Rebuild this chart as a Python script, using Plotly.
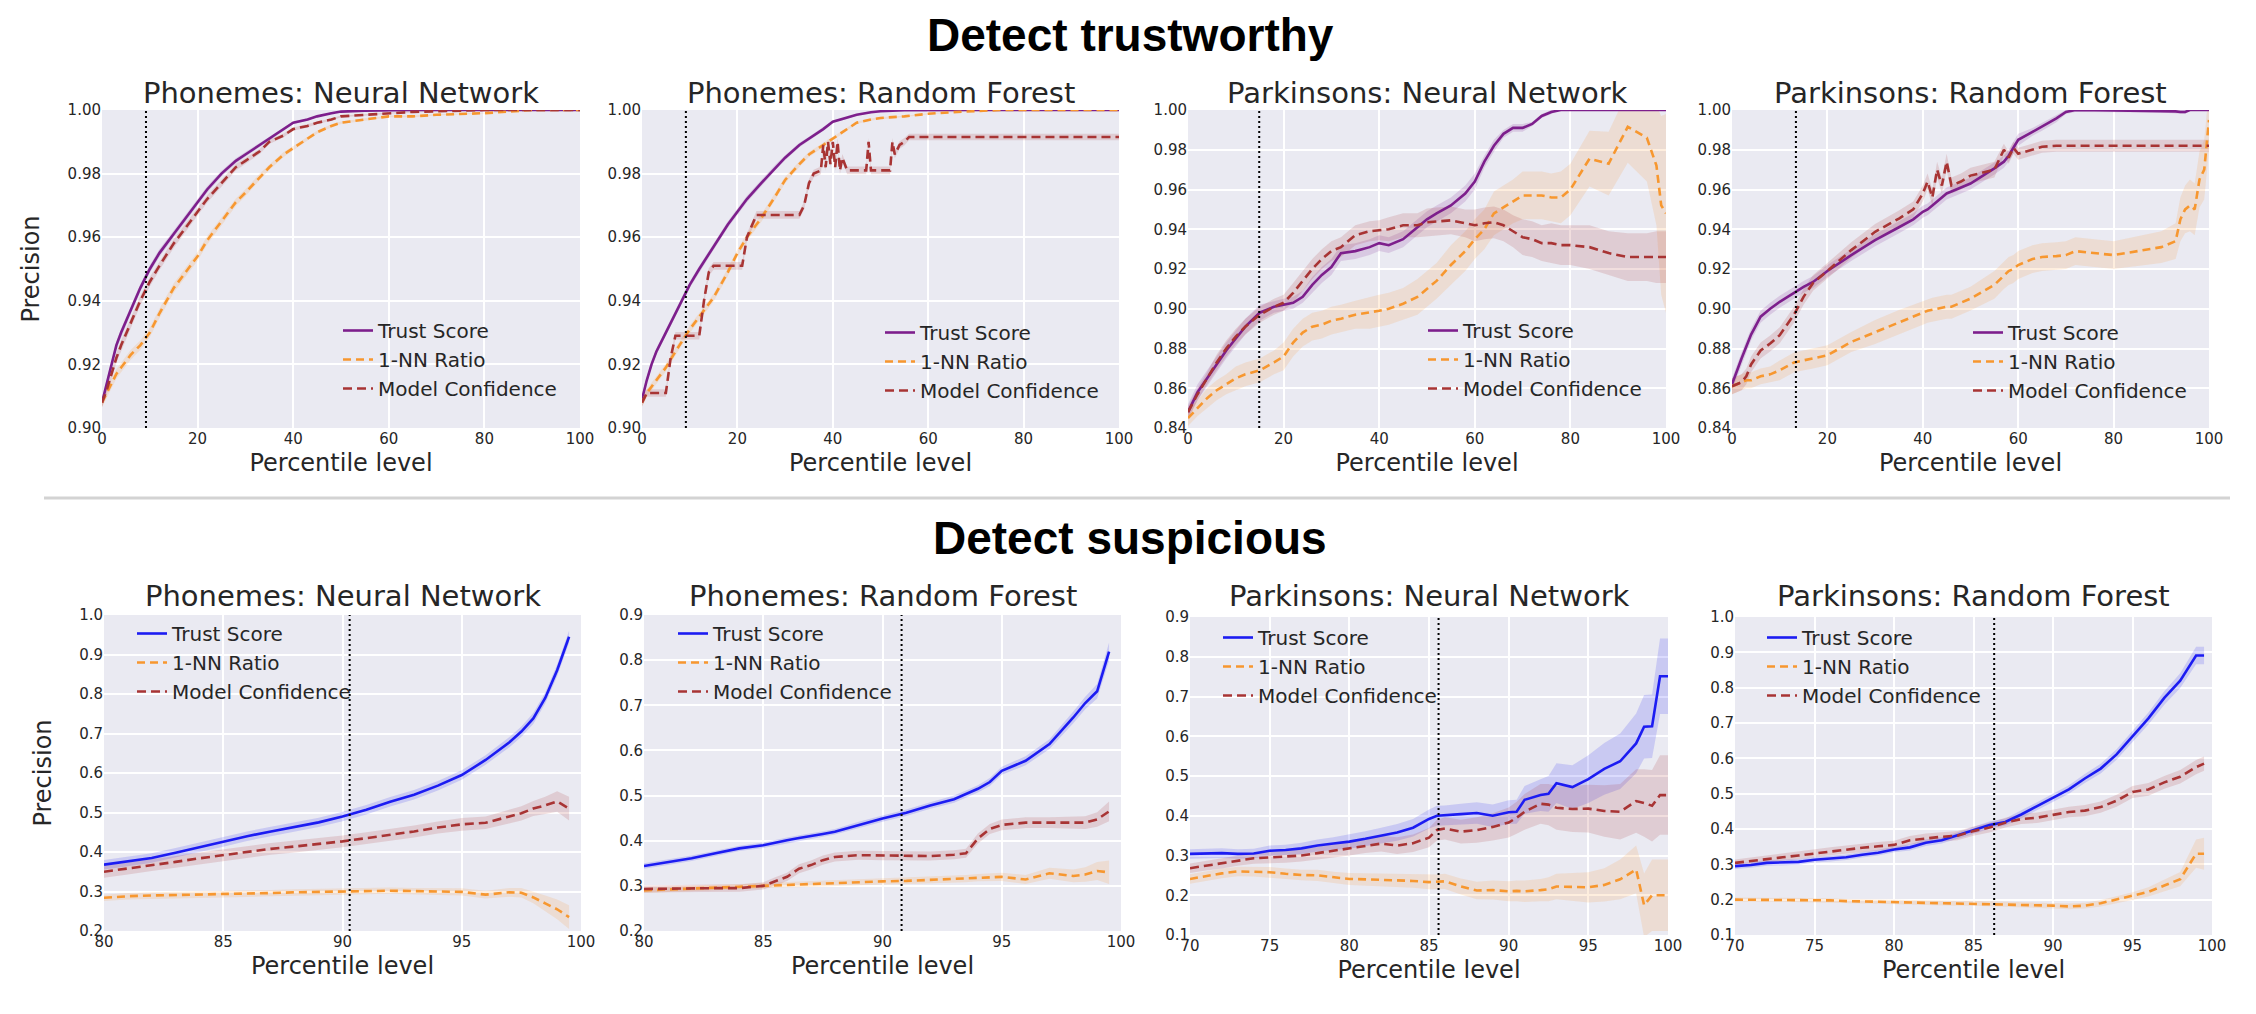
import plotly.graph_objects as go

# ---------------- data ----------------
# top row: "Detect trustworthy", percentile level 0..100
tp1_x = [0, 1, 2, 3, 4, 6, 8, 10, 12, 15,
         18, 20, 22, 25, 28, 30, 33, 35, 38, 40,
         43, 45, 48, 50, 55, 60, 65, 70, 80, 90,
         100]
tp1_trust = [0.908, 0.914, 0.920, 0.926, 0.930, 0.937, 0.944, 0.950, 0.955, 0.961,
             0.967, 0.971, 0.975, 0.980, 0.984, 0.986, 0.989, 0.991, 0.994, 0.996,
             0.997, 0.998, 0.999, 0.9995, 0.9998, 1.0, 1.0, 1.0, 1.0, 1.0,
             1.0]
tp1_conf = [0.908, 0.912, 0.917, 0.922, 0.926, 0.933, 0.940, 0.946, 0.951, 0.958,
            0.964, 0.968, 0.972, 0.977, 0.982, 0.984, 0.987, 0.990, 0.992, 0.994,
            0.995, 0.996, 0.997, 0.998, 0.9985, 0.999, 0.9994, 0.9996, 1.0, 1.0,
            1.0]
tp1_nn = [0.908, 0.911, 0.914, 0.917, 0.919, 0.923, 0.926, 0.930, 0.936, 0.944,
          0.950, 0.954, 0.959, 0.965, 0.971, 0.974, 0.979, 0.982, 0.986, 0.988,
          0.991, 0.993, 0.995, 0.996, 0.997, 0.998, 0.998, 0.9985, 0.999, 1.0,
          1.0]
tp1_trust_sd = [0.0012, 0.0012, 0.0012, 0.0012, 0.0012, 0.0012, 0.0012, 0.0012, 0.0012, 0.0011,
                0.0011, 0.0010, 0.0010, 0.0009, 0.0008, 0.0008, 0.0007, 0.0006, 0.0005, 0.0004,
                0.0004, 0.0003, 0.0002, 0.0002, 0.0001, 0.0, 0.0, 0.0, 0.0, 0.0,
                0.0]
tp1_conf_sd = [0.0015, 0.0015, 0.0015, 0.0015, 0.0015, 0.0015, 0.0015, 0.0015, 0.0014, 0.0014,
               0.0013, 0.0012, 0.0012, 0.0011, 0.0010, 0.0009, 0.0008, 0.0007, 0.0006, 0.0005,
               0.0005, 0.0004, 0.0004, 0.0003, 0.0003, 0.0002, 0.0002, 0.0001, 0.0, 0.0,
               0.0]
tp1_nn_sd = [0.0015, 0.0015, 0.0015, 0.0015, 0.0015, 0.0015, 0.0015, 0.0015, 0.0015, 0.0015,
             0.0014, 0.0014, 0.0013, 0.0013, 0.0012, 0.0011, 0.0010, 0.0009, 0.0008, 0.0007,
             0.0006, 0.0005, 0.0005, 0.0004, 0.0004, 0.0003, 0.0003, 0.0002, 0.0001, 0.0,
             0.0]

tp2_x = [0, 1, 2, 3, 5, 7, 10, 12, 15, 18,
         20, 22, 25, 28, 30, 33, 35, 38, 40, 43,
         45, 48, 50, 55, 60, 65, 70, 75, 80, 90,
         100]
tp2_trust = [0.909, 0.915, 0.920, 0.924, 0.930, 0.936, 0.945, 0.950, 0.957, 0.964,
             0.968, 0.972, 0.977, 0.982, 0.985, 0.989, 0.991, 0.994, 0.9963, 0.9975,
             0.9985, 0.9993, 0.9996, 0.9999, 1.0, 1.0, 1.0, 1.0, 1.0, 1.0,
             1.0]
tp2_nn = [0.908, 0.911, 0.913, 0.915, 0.919, 0.924, 0.931, 0.935, 0.941, 0.949,
          0.955, 0.960, 0.966, 0.973, 0.978, 0.983, 0.986, 0.989, 0.991, 0.994,
          0.996, 0.997, 0.9975, 0.998, 0.9988, 0.9993, 0.9996, 1.0, 1.0, 1.0,
          1.0]
tp2_trust_sd = [0.001, 0.001, 0.001, 0.001, 0.001, 0.001, 0.001, 0.001, 0.001, 0.001,
                0.001, 0.001, 0.001, 0.0009, 0.0008, 0.0007, 0.0006, 0.0005, 0.0004, 0.0003,
                0.0002, 0.0002, 0.0001, 0.0001, 0.0, 0.0, 0.0, 0.0, 0.0, 0.0,
                0.0]
tp2_nn_sd = [0.0012, 0.0012, 0.0012, 0.0012, 0.0012, 0.0012, 0.0012, 0.0012, 0.0012, 0.0012,
             0.0012, 0.0012, 0.0012, 0.0011, 0.0010, 0.0009, 0.0008, 0.0007, 0.0006, 0.0005,
             0.0004, 0.0003, 0.0003, 0.0002, 0.0002, 0.0001, 0.0001, 0.0, 0.0, 0.0,
             0.0]
tp2_conf_x = [0, 1, 5, 6, 7, 12, 13, 14, 15, 21,
              22, 24, 33, 34, 35, 36, 37.5, 38, 38.5, 39,
              39.5, 40, 40.5, 41, 41.5, 42, 43, 47, 47.5, 48,
              52, 52.5, 53, 54, 55, 56, 100]
tp2_conf = [0.908, 0.911, 0.911, 0.922, 0.929, 0.929, 0.940, 0.949, 0.951, 0.951,
            0.960, 0.967, 0.967, 0.970, 0.977, 0.980, 0.981, 0.989, 0.982, 0.990,
            0.983, 0.990, 0.982, 0.990, 0.981, 0.985, 0.981, 0.981, 0.990, 0.981,
            0.981, 0.990, 0.986, 0.989, 0.990, 0.9915, 0.9915]
tp2_conf_sd = [0.0012, 0.0012, 0.0012, 0.0012, 0.0012, 0.0012, 0.0012, 0.0012, 0.0012, 0.0012,
               0.0012, 0.0012, 0.0012, 0.0012, 0.0012, 0.0012, 0.0012, 0.0012, 0.0012, 0.0012,
               0.0012, 0.0012, 0.0012, 0.0012, 0.0012, 0.0012, 0.0012, 0.0012, 0.0012, 0.0012,
               0.0012, 0.0012, 0.0012, 0.0012, 0.0012, 0.0010, 0.0010]

tp3_x = [0, 2, 4, 6, 8, 10, 12, 15, 18, 20,
         22, 24, 26, 28, 30, 32, 35, 38, 40, 42,
         45, 48, 50, 52, 55, 58, 60, 62, 64, 66,
         68, 70, 72, 74, 76, 78, 80, 84, 88, 92,
         96, 98, 99, 100]
tp3_trust = [0.848, 0.858, 0.865, 0.872, 0.879, 0.885, 0.891, 0.898, 0.901, 0.902,
             0.903, 0.906, 0.912, 0.917, 0.921, 0.928, 0.929, 0.931, 0.933, 0.932,
             0.935, 0.941, 0.945, 0.948, 0.952, 0.958, 0.964, 0.974, 0.982, 0.988,
             0.991, 0.991, 0.993, 0.997, 0.999, 1.0, 1.0, 1.0, 1.0, 1.0,
             1.0, 1.0, 1.0, 1.0]
tp3_conf = [0.848, 0.857, 0.865, 0.873, 0.880, 0.886, 0.891, 0.897, 0.901, 0.903,
            0.908, 0.914, 0.920, 0.925, 0.929, 0.931, 0.937, 0.939, 0.9395, 0.940,
            0.942, 0.942, 0.9435, 0.944, 0.9445, 0.943, 0.942, 0.943, 0.9435, 0.942,
            0.939, 0.936, 0.935, 0.933, 0.933, 0.932, 0.932, 0.931, 0.928, 0.926,
            0.926, 0.926, 0.926, 0.926]
tp3_nn = [0.845, 0.850, 0.855, 0.859, 0.862, 0.865, 0.867, 0.869, 0.873, 0.876,
          0.883, 0.888, 0.891, 0.892, 0.894, 0.895, 0.897, 0.898, 0.899, 0.900,
          0.9025, 0.906, 0.910, 0.914, 0.922, 0.929, 0.935, 0.940, 0.948, 0.951,
          0.954, 0.957, 0.957, 0.957, 0.956, 0.956, 0.960, 0.9755, 0.973, 0.9915,
          0.986, 0.972, 0.952, 0.948]
tp3_trust_sd = [0.004, 0.004, 0.004, 0.004, 0.004, 0.004, 0.004, 0.004, 0.003, 0.003,
                0.003, 0.003, 0.004, 0.004, 0.004, 0.004, 0.004, 0.004, 0.004, 0.004,
                0.004, 0.004, 0.004, 0.004, 0.004, 0.004, 0.004, 0.003, 0.003, 0.002,
                0.002, 0.002, 0.001, 0.001, 0.001, 0.0, 0.0, 0.0, 0.0, 0.0,
                0.0, 0.0, 0.0, 0.0]
tp3_conf_sd = [0.003, 0.003, 0.003, 0.004, 0.004, 0.004, 0.004, 0.004, 0.004, 0.004,
               0.005, 0.005, 0.005, 0.005, 0.005, 0.005, 0.005, 0.005, 0.005, 0.006,
               0.006, 0.006, 0.007, 0.007, 0.007, 0.007, 0.008, 0.008, 0.008, 0.008,
               0.008, 0.009, 0.009, 0.009, 0.010, 0.010, 0.010, 0.011, 0.011, 0.012,
               0.012, 0.013, 0.013, 0.013]
tp3_nn_sd = [0.004, 0.004, 0.005, 0.005, 0.005, 0.006, 0.006, 0.006, 0.006, 0.007,
             0.007, 0.007, 0.007, 0.007, 0.007, 0.007, 0.007, 0.008, 0.008, 0.008,
             0.008, 0.009, 0.009, 0.009, 0.010, 0.010, 0.010, 0.010, 0.011, 0.011,
             0.011, 0.012, 0.012, 0.012, 0.012, 0.013, 0.013, 0.014, 0.016, 0.018,
             0.022, 0.030, 0.045, 0.050]

tp4_x = [0, 1, 2, 3, 4, 6, 8, 10, 13, 15,
         17, 20, 25, 30, 35, 38, 40, 41, 42, 43,
         44, 45, 46, 48, 50, 55, 57, 58, 59, 60,
         63, 65, 68, 70, 72, 80, 90, 93, 94, 95,
         96, 97, 98, 99, 100]
tp4_trust = [0.862, 0.869, 0.875, 0.881, 0.887, 0.896, 0.900, 0.9035, 0.908, 0.911,
             0.9135, 0.919, 0.927, 0.9345, 0.941, 0.945, 0.9488, 0.950, 0.952, 0.954,
             0.956, 0.958, 0.959, 0.961, 0.963, 0.9706, 0.974, 0.977, 0.981, 0.985,
             0.989, 0.9916, 0.9958, 0.999, 1.0, 0.9998, 0.9997, 0.9993, 0.999, 0.999,
             1.0, 1.0, 1.0, 1.0, 1.0]
tp4_conf = [0.861, 0.862, 0.863, 0.866, 0.872, 0.879, 0.8825, 0.8867, 0.897, 0.906,
            0.913, 0.919, 0.9295, 0.9387, 0.9454, 0.950, 0.958, 0.964, 0.956, 0.970,
            0.962, 0.974, 0.962, 0.964, 0.967, 0.970, 0.980, 0.976, 0.981, 0.978,
            0.980, 0.9815, 0.982, 0.982, 0.982, 0.982, 0.982, 0.982, 0.982, 0.982,
            0.982, 0.982, 0.982, 0.982, 0.982]
tp4_nn = [0.861, 0.862, 0.863, 0.864, 0.864, 0.866, 0.867, 0.869, 0.873, 0.874,
          0.875, 0.8766, 0.8833, 0.8883, 0.8934, 0.896, 0.898, 0.899, 0.8995, 0.900,
          0.9005, 0.901, 0.901, 0.903, 0.9051, 0.912, 0.917, 0.919, 0.920, 0.922,
          0.925, 0.926, 0.9265, 0.927, 0.929, 0.927, 0.931, 0.934, 0.945, 0.950,
          0.952, 0.950, 0.965, 0.970, 0.995]
tp4_trust_sd = [0.003, 0.003, 0.003, 0.003, 0.003, 0.003, 0.003, 0.003, 0.003, 0.003,
                0.003, 0.003, 0.003, 0.003, 0.003, 0.003, 0.003, 0.003, 0.003, 0.003,
                0.003, 0.003, 0.003, 0.003, 0.003, 0.003, 0.003, 0.003, 0.003, 0.003,
                0.002, 0.002, 0.002, 0.001, 0.001, 0.001, 0.001, 0.001, 0.001, 0.001,
                0.0, 0.0, 0.0, 0.0, 0.0]
tp4_conf_sd = [0.004, 0.004, 0.004, 0.004, 0.004, 0.004, 0.004, 0.004, 0.004, 0.004,
               0.004, 0.004, 0.004, 0.004, 0.004, 0.004, 0.004, 0.004, 0.004, 0.004,
               0.004, 0.004, 0.004, 0.004, 0.004, 0.004, 0.003, 0.003, 0.003, 0.003,
               0.003, 0.003, 0.003, 0.003, 0.003, 0.003, 0.003, 0.003, 0.003, 0.003,
               0.003, 0.003, 0.003, 0.003, 0.003]
tp4_nn_sd = [0.004, 0.004, 0.004, 0.004, 0.004, 0.004, 0.004, 0.005, 0.005, 0.005,
             0.005, 0.005, 0.005, 0.006, 0.006, 0.006, 0.006, 0.006, 0.006, 0.006,
             0.006, 0.006, 0.006, 0.006, 0.006, 0.007, 0.007, 0.007, 0.007, 0.007,
             0.007, 0.007, 0.007, 0.007, 0.007, 0.007, 0.008, 0.009, 0.011, 0.012,
             0.013, 0.013, 0.014, 0.015, 0.015]

# bottom row: "Detect suspicious"
bp1_x = [80, 81, 82, 83, 84, 85, 86, 87, 88, 89,
         90, 91, 92, 93, 94, 95, 96, 97, 97.5, 98,
         98.5, 99, 99.5]
bp1_trust = [0.368, 0.376, 0.385, 0.398, 0.412, 0.425, 0.440, 0.452, 0.463, 0.475,
             0.490, 0.507, 0.527, 0.545, 0.568, 0.595, 0.633, 0.678, 0.705, 0.738,
             0.790, 0.860, 0.945]
bp1_conf = [0.350, 0.358, 0.367, 0.375, 0.384, 0.392, 0.400, 0.408, 0.414, 0.420,
            0.427, 0.435, 0.443, 0.452, 0.462, 0.470, 0.474, 0.490, 0.498, 0.510,
            0.518, 0.528, 0.510]
bp1_nn = [0.284, 0.288, 0.290, 0.291, 0.292, 0.293, 0.294, 0.296, 0.298, 0.299,
          0.300, 0.301, 0.302, 0.301, 0.300, 0.299, 0.292, 0.298, 0.297, 0.285,
          0.270, 0.255, 0.235]
bp1_trust_sd = [0.012, 0.012, 0.012, 0.012, 0.012, 0.012, 0.012, 0.012, 0.012, 0.012,
                0.012, 0.012, 0.012, 0.012, 0.012, 0.012, 0.012, 0.013, 0.013, 0.014,
                0.014, 0.015, 0.015]
bp1_conf_sd = [0.015, 0.015, 0.015, 0.015, 0.015, 0.015, 0.015, 0.015, 0.015, 0.015,
               0.015, 0.015, 0.015, 0.015, 0.015, 0.016, 0.016, 0.017, 0.018, 0.019,
               0.022, 0.026, 0.030]
bp1_nn_sd = [0.008, 0.008, 0.008, 0.008, 0.008, 0.008, 0.008, 0.008, 0.008, 0.008,
             0.008, 0.008, 0.008, 0.008, 0.009, 0.009, 0.010, 0.011, 0.012, 0.015,
             0.020, 0.025, 0.030]

bp2_x = [80, 81, 82, 83, 84, 85, 85.5, 86, 86.5, 87,
         87.5, 88, 89, 90, 91, 92, 93, 93.5, 94, 94.5,
         95, 96, 97, 98, 98.5, 99, 99.5]
bp2_trust = [0.344, 0.352, 0.361, 0.372, 0.383, 0.390, 0.396, 0.401, 0.406, 0.410,
             0.415, 0.420, 0.435, 0.449, 0.462, 0.478, 0.492, 0.503, 0.515, 0.530,
             0.555, 0.577, 0.614, 0.673, 0.705, 0.731, 0.819]
bp2_conf = [0.293, 0.294, 0.294, 0.295, 0.295, 0.300, 0.310, 0.320, 0.338, 0.346,
            0.357, 0.364, 0.368, 0.367, 0.366, 0.366, 0.369, 0.372, 0.405, 0.426,
            0.435, 0.440, 0.440, 0.440, 0.440, 0.447, 0.465]
bp2_nn = [0.290, 0.292, 0.294, 0.296, 0.298, 0.300, 0.302, 0.303, 0.303, 0.304,
          0.305, 0.306, 0.308, 0.310, 0.311, 0.313, 0.315, 0.316, 0.318, 0.319,
          0.320, 0.314, 0.328, 0.322, 0.325, 0.333, 0.330]
bp2_trust_sd = [0.006, 0.006, 0.006, 0.006, 0.006, 0.006, 0.006, 0.006, 0.006, 0.006,
                0.006, 0.006, 0.007, 0.007, 0.007, 0.007, 0.008, 0.008, 0.008, 0.009,
                0.009, 0.010, 0.011, 0.013, 0.014, 0.016, 0.020]
bp2_conf_sd = [0.008, 0.008, 0.008, 0.008, 0.008, 0.008, 0.009, 0.009, 0.010, 0.010,
               0.010, 0.010, 0.010, 0.010, 0.010, 0.010, 0.010, 0.010, 0.011, 0.011,
               0.012, 0.012, 0.012, 0.013, 0.014, 0.016, 0.022]
bp2_nn_sd = [0.006, 0.006, 0.006, 0.006, 0.006, 0.006, 0.006, 0.006, 0.006, 0.006,
             0.006, 0.007, 0.007, 0.007, 0.007, 0.007, 0.008, 0.008, 0.008, 0.008,
             0.009, 0.010, 0.012, 0.014, 0.016, 0.020, 0.026]

bp3_x = [70, 71, 72, 73, 74, 75, 76, 77, 78, 79,
         80, 81, 82, 83, 84, 85, 85.5, 86, 87, 88,
         89, 90, 90.5, 91, 92, 92.5, 93, 94, 95, 96,
         97, 98, 98.5, 99, 99.5, 100]
bp3_trust = [0.304, 0.305, 0.306, 0.304, 0.305, 0.312, 0.314, 0.318, 0.325, 0.330,
             0.335, 0.342, 0.350, 0.358, 0.370, 0.392, 0.400, 0.401, 0.404, 0.407,
             0.400, 0.409, 0.410, 0.440, 0.452, 0.455, 0.482, 0.472, 0.492, 0.518,
             0.537, 0.582, 0.624, 0.625, 0.751, 0.751]
bp3_conf = [0.268, 0.274, 0.280, 0.287, 0.293, 0.295, 0.297, 0.300, 0.306, 0.312,
            0.318, 0.325, 0.330, 0.325, 0.331, 0.345, 0.364, 0.368, 0.360, 0.364,
            0.372, 0.383, 0.395, 0.410, 0.430, 0.428, 0.420, 0.417, 0.418, 0.412,
            0.410, 0.437, 0.432, 0.425, 0.452, 0.452]
bp3_nn = [0.241, 0.248, 0.255, 0.260, 0.259, 0.258, 0.254, 0.251, 0.250, 0.245,
          0.241, 0.240, 0.239, 0.237, 0.236, 0.233, 0.234, 0.235, 0.222, 0.212,
          0.213, 0.210, 0.211, 0.210, 0.213, 0.215, 0.222, 0.221, 0.220, 0.226,
          0.240, 0.265, 0.175, 0.200, 0.200, 0.200]
bp3_trust_sd = [0.012, 0.012, 0.012, 0.012, 0.012, 0.013, 0.013, 0.014, 0.015, 0.016,
                0.018, 0.019, 0.020, 0.021, 0.022, 0.024, 0.025, 0.025, 0.026, 0.027,
                0.028, 0.030, 0.030, 0.035, 0.040, 0.045, 0.050, 0.055, 0.060, 0.065,
                0.070, 0.075, 0.080, 0.080, 0.095, 0.095]
bp3_conf_sd = [0.012, 0.012, 0.013, 0.013, 0.014, 0.014, 0.015, 0.015, 0.016, 0.017,
               0.018, 0.019, 0.020, 0.021, 0.022, 0.024, 0.026, 0.028, 0.030, 0.032,
               0.034, 0.038, 0.040, 0.045, 0.050, 0.052, 0.055, 0.058, 0.060, 0.065,
               0.070, 0.080, 0.085, 0.090, 0.100, 0.100]
bp3_nn_sd = [0.012, 0.012, 0.012, 0.012, 0.012, 0.013, 0.013, 0.013, 0.014, 0.014,
             0.015, 0.015, 0.016, 0.016, 0.017, 0.018, 0.018, 0.019, 0.020, 0.022,
             0.024, 0.025, 0.026, 0.027, 0.028, 0.030, 0.032, 0.035, 0.038, 0.042,
             0.050, 0.060, 0.080, 0.090, 0.090, 0.090]

bp4_x = [70, 71, 72, 73, 74, 75, 76, 77, 78, 79,
         80, 81, 82, 83, 84, 85, 86, 87, 88, 89,
         90, 91, 92, 93, 94, 95, 96, 97, 98, 99,
         99.5]
bp4_trust = [0.295, 0.298, 0.304, 0.306, 0.307, 0.313, 0.316, 0.320, 0.327, 0.333,
             0.342, 0.348, 0.361, 0.368, 0.382, 0.396, 0.411, 0.420, 0.441, 0.465,
             0.488, 0.512, 0.543, 0.571, 0.611, 0.663, 0.713, 0.771, 0.820, 0.891,
             0.891]
bp4_conf = [0.304, 0.310, 0.315, 0.320, 0.325, 0.331, 0.337, 0.342, 0.347, 0.351,
            0.355, 0.368, 0.374, 0.378, 0.381, 0.394, 0.404, 0.418, 0.428, 0.432,
            0.440, 0.448, 0.452, 0.462, 0.480, 0.505, 0.512, 0.532, 0.548, 0.575,
            0.585]
bp4_nn = [0.200, 0.200, 0.200, 0.200, 0.200, 0.200, 0.198, 0.196, 0.195, 0.194,
          0.193, 0.192, 0.191, 0.190, 0.190, 0.190, 0.189, 0.188, 0.186, 0.185,
          0.183, 0.181, 0.183, 0.190, 0.200, 0.210, 0.222, 0.240, 0.258, 0.330,
          0.330]
bp4_trust_sd = [0.008, 0.008, 0.008, 0.008, 0.008, 0.008, 0.008, 0.008, 0.008, 0.008,
                0.008, 0.009, 0.009, 0.009, 0.009, 0.010, 0.010, 0.010, 0.011, 0.011,
                0.012, 0.012, 0.013, 0.014, 0.015, 0.016, 0.017, 0.019, 0.021, 0.025,
                0.025]
bp4_conf_sd = [0.010, 0.010, 0.010, 0.010, 0.011, 0.011, 0.011, 0.011, 0.012, 0.012,
               0.012, 0.012, 0.013, 0.013, 0.013, 0.013, 0.014, 0.014, 0.014, 0.015,
               0.015, 0.015, 0.016, 0.016, 0.017, 0.017, 0.018, 0.018, 0.019, 0.020,
               0.020]
bp4_nn_sd = [0.006, 0.006, 0.006, 0.006, 0.006, 0.006, 0.006, 0.006, 0.006, 0.006,
             0.006, 0.006, 0.006, 0.007, 0.007, 0.007, 0.007, 0.007, 0.007, 0.008,
             0.008, 0.008, 0.008, 0.009, 0.010, 0.011, 0.013, 0.016, 0.020, 0.040,
             0.045]

top_titles = ["Phonemes: Neural Network", "Phonemes: Random Forest",
              "Parkinsons: Neural Network", "Parkinsons: Random Forest"]
bottom_titles = top_titles
top_cutoffs = [9.2, 9.2, 14.9, 13.4]
bottom_cutoffs = [90.3, 90.8, 85.6, 86.3]
series_names = ["Trust Score", "1-NN Ratio", "Model Confidence"]

# ---------------- styling ----------------
W, H = 2256, 1014
PURPLE = "#7d1f8c"
BLUE = "#1c1cf2"
ORANGE = "#f7972f"
BROWN = "#a83434"
TEXT = "#262626"
FONT = "DejaVu Sans"


def rgba(hex_color, a):
    h = hex_color.lstrip("#")
    return "rgba(%d,%d,%d,%.2f)" % (int(h[0:2], 16), int(h[2:4], 16), int(h[4:6], 16), a)


# panel boxes in pixels: left, right, top, bottom
boxes = [
    (94, 572, 102, 420), (634, 1111, 102, 420), (1180, 1658, 102, 420), (1724, 2201, 102, 420),
    (96, 573, 607, 923), (636, 1113, 607, 923), (1182, 1660, 609, 927), (1727, 2204, 609, 927),
]
# legend anchor (text start x, first row y) in pixels
legend_pos = [
    (376, 330), (918, 332), (1461, 330), (2006, 332),
    (170, 633), (711, 633), (1256, 637), (1800, 637),
]

panels = [
    dict(xr=[0, 100], yr=[0.90, 1.0], dx=20, dy=0.02, fmt=".2f", trust_color=PURPLE,
         lines=[(tp1_x, tp1_trust, tp1_trust_sd), (tp1_x, tp1_nn, tp1_nn_sd), (tp1_x, tp1_conf, tp1_conf_sd)]),
    dict(xr=[0, 100], yr=[0.90, 1.0], dx=20, dy=0.02, fmt=".2f", trust_color=PURPLE,
         lines=[(tp2_x, tp2_trust, tp2_trust_sd), (tp2_x, tp2_nn, tp2_nn_sd), (tp2_conf_x, tp2_conf, tp2_conf_sd)]),
    dict(xr=[0, 100], yr=[0.84, 1.0], dx=20, dy=0.02, fmt=".2f", trust_color=PURPLE,
         lines=[(tp3_x, tp3_trust, tp3_trust_sd), (tp3_x, tp3_nn, tp3_nn_sd), (tp3_x, tp3_conf, tp3_conf_sd)]),
    dict(xr=[0, 100], yr=[0.84, 1.0], dx=20, dy=0.02, fmt=".2f", trust_color=PURPLE,
         lines=[(tp4_x, tp4_trust, tp4_trust_sd), (tp4_x, tp4_nn, tp4_nn_sd), (tp4_x, tp4_conf, tp4_conf_sd)]),
    dict(xr=[80, 100], yr=[0.2, 1.0], dx=5, dy=0.1, fmt=".1f", trust_color=BLUE,
         lines=[(bp1_x, bp1_trust, bp1_trust_sd), (bp1_x, bp1_nn, bp1_nn_sd), (bp1_x, bp1_conf, bp1_conf_sd)]),
    dict(xr=[80, 100], yr=[0.2, 0.9], dx=5, dy=0.1, fmt=".1f", trust_color=BLUE,
         lines=[(bp2_x, bp2_trust, bp2_trust_sd), (bp2_x, bp2_nn, bp2_nn_sd), (bp2_x, bp2_conf, bp2_conf_sd)]),
    dict(xr=[70, 100], yr=[0.1, 0.9], dx=5, dy=0.1, fmt=".1f", trust_color=BLUE,
         lines=[(bp3_x, bp3_trust, bp3_trust_sd), (bp3_x, bp3_nn, bp3_nn_sd), (bp3_x, bp3_conf, bp3_conf_sd)]),
    dict(xr=[70, 100], yr=[0.1, 1.0], dx=5, dy=0.1, fmt=".1f", trust_color=BLUE,
         lines=[(bp4_x, bp4_trust, bp4_trust_sd), (bp4_x, bp4_nn, bp4_nn_sd), (bp4_x, bp4_conf, bp4_conf_sd)]),
]
titles = top_titles + bottom_titles
cutoffs = top_cutoffs + bottom_cutoffs

fig = go.Figure()
layout = {}
annotations = []
shapes = []

for i, p in enumerate(panels):
    n = i + 1
    xa = "x" if n == 1 else "x%d" % n
    ya = "y" if n == 1 else "y%d" % n
    leg = "legend" if n == 1 else "legend%d" % n
    colors = [p["trust_color"], ORANGE, BROWN]
    dashes = ["solid", "8px,5px", "9px,5px"]

    # shaded bands first, lines on top
    for (x, y, sd), c in zip(p["lines"], colors):
        upper = [v + s for v, s in zip(y, sd)]
        lower = [v - s for v, s in zip(y, sd)]
        fig.add_trace(go.Scatter(
            x=list(x) + list(x)[::-1], y=upper + lower[::-1],
            fill="toself", fillcolor=rgba(c, 0.16), line=dict(width=0),
            mode="lines", hoverinfo="skip", showlegend=False, xaxis=xa, yaxis=ya))
    for (x, y, sd), c, d, name in zip(p["lines"], colors, dashes, series_names):
        fig.add_trace(go.Scatter(
            x=x, y=y, mode="lines", name=name,
            line=dict(color=c, width=2.6, dash=d),
            legend=leg, xaxis=xa, yaxis=ya))

    left, right, top, bottom = boxes[i]
    axis_common = dict(showgrid=True, gridcolor="white", gridwidth=1.5, zeroline=False,
                       showline=False, ticks="", automargin=False,
                       tickfont=dict(family=FONT, size=15, color=TEXT))
    layout["xaxis" if n == 1 else "xaxis%d" % n] = dict(
        axis_common, domain=[left / W, right / W], anchor=ya, range=p["xr"],
        dtick=p["dx"], tick0=0,
        title=dict(text="Percentile level", font=dict(family=FONT, size=24, color=TEXT), standoff=7))
    yax = dict(axis_common, domain=[1 - bottom / H, 1 - top / H], anchor=xa, range=p["yr"],
               dtick=p["dy"], tick0=0, tickformat=p["fmt"])
    if i % 4 == 0:
        yax["title"] = dict(text="Precision", font=dict(family=FONT, size=24, color=TEXT),
                            standoff=21 if i == 0 else 20)
    layout["yaxis" if n == 1 else "yaxis%d" % n] = yax

    tx, ty = legend_pos[i]
    layout[leg] = dict(x=(tx - 46) / W, y=1 - (ty - 27) / H, xanchor="left", yanchor="top",
                       bgcolor="rgba(0,0,0,0)", tracegroupgap=0,
                       font=dict(family=FONT, size=20, color=TEXT))

    annotations.append(dict(text=titles[i], x=(left + right) / 2 / W, y=1 - (85 if i < 4 else 588) / H,
                            xref="paper", yref="paper", xanchor="center", yanchor="middle",
                            showarrow=False, font=dict(family=FONT, size=29, color=TEXT)))
    shapes.append(dict(type="line", xref=xa, yref=ya + " domain", x0=cutoffs[i], x1=cutoffs[i],
                       y0=0, y1=1, line=dict(color="black", width=2, dash="2px,3px")))

for text, ypx in [("<b>Detect trustworthy</b>", 27), ("<b>Detect suspicious</b>", 530)]:
    annotations.append(dict(text=text, x=1122 / W, y=1 - ypx / H, xref="paper", yref="paper",
                            xanchor="center", yanchor="middle", showarrow=False,
                            font=dict(family="Liberation Sans", size=46, color="black")))
shapes.append(dict(type="line", xref="paper", yref="paper", x0=36 / W, x1=2222 / W,
                   y0=1 - 490 / H, y1=1 - 490 / H, line=dict(color="#d3d3d3", width=3)))

fig.update_layout(
    width=W, height=H, margin=dict(l=0, r=0, t=0, b=0),
    paper_bgcolor="white", plot_bgcolor="#eaeaf2",
    annotations=annotations, shapes=shapes, **layout)

fig.write_html("out.html")
